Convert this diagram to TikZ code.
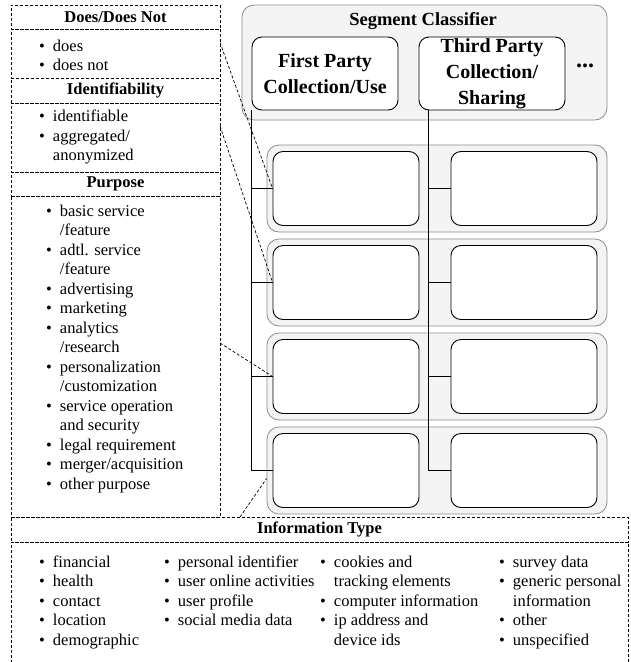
\documentclass[tikz,border=0pt]{standalone}
\usepackage{fontspec}
\setmainfont{Liberation Serif}
\usetikzlibrary{positioning}

\newcommand{\itemlist}[1]{\begin{tabular}[t]{@{}c@{\hspace{8pt}}l@{}}#1\end{tabular}}

\begin{document}
\begin{tikzpicture}[x=1pt, y=-1pt,
    node distance=0pt,
    dsh/.style={dash pattern=on 3pt off 2pt},
    hdr/.style={draw, dsh, minimum width=209pt, minimum height=24pt, inner sep=0pt, outer sep=0pt, font=\bfseries\fontsize{16.5}{19.5}\selectfont},
    frm/.style={draw, dsh, minimum width=209pt, inner sep=0pt, outer sep=0pt},
    lst/.style={inner sep=0pt, anchor=base west, font=\fontsize{16.5}{19.5}\selectfont},
    grp/.style={draw=gray!90, fill=gray!9, rounded corners=12pt, line width=0.8pt, inner sep=0pt},
    cell/.style={draw, fill=white, rounded corners=10pt, minimum width=146pt, minimum height=74pt, inner sep=0pt, line width=0.9pt, align=center, font=\bfseries\fontsize{20}{26}\selectfont},
    link/.style={dsh, line width=0.7pt},
    wire/.style={line width=0.8pt}
  ]
  \useasboundingbox (0,0) rectangle (631,662);

  % left column of label sets
  \node[hdr] (hdDoes) at (115.5,17) {Does/Does Not};
  \node[frm, minimum height=49pt, below=of hdDoes] (frDoes) {};
  \node[hdr, minimum height=25pt, below=of frDoes] (hdIdent) {Identifiability};
  \node[frm, minimum height=69pt, below=of hdIdent] (frIdent) {};
  \node[hdr, below=of frIdent] (hdPurp) {Purpose};
  \node[frm, minimum height=321pt, below=of hdPurp] (frPurp) {};

  \node[lst] (lsDoes) at (39,51) {\itemlist{\textbullet & does\\ \textbullet & does not}};
  \node[lst] (lsIdent) at (39,121.5) {\itemlist{\textbullet & identifiable\\ \textbullet & aggregated/\\ & anonymized}};
  \node[lst] (lsPurp) at (46,216) {\itemlist{\textbullet & basic service\\ & /feature\\
    \textbullet & adtl. service\\ & /feature\\ \textbullet & advertising\\ \textbullet & marketing\\
    \textbullet & analytics\\ & /research\\ \textbullet & personalization\\ & /customization\\
    \textbullet & service operation\\ & and security\\ \textbullet & legal requirement\\
    \textbullet & merger/acquisition\\ \textbullet & other purpose}};

  % information type along the bottom
  \node[hdr, minimum width=617pt, minimum height=25pt] (hdInfo) at (319.5,529.5) {Information Type};
  \node[frm, minimum width=617pt, minimum height=128pt, below=of hdInfo] (frInfo) {};
  \node[lst] (lsInfoA) at (39,567) {\itemlist{\textbullet & financial\\ \textbullet & health\\ \textbullet & contact\\ \textbullet & location\\ \textbullet & demographic}};
  \node[lst] (lsInfoB) at (164,567) {\itemlist{\textbullet & personal identifier\\ \textbullet & user online activities\\ \textbullet & user profile\\ \textbullet & social media data}};
  \node[lst] (lsInfoC) at (320,567) {\itemlist{\textbullet & cookies and\\ & tracking elements\\ \textbullet & computer information\\ \textbullet & ip address and\\ & device ids}};
  \node[lst] (lsInfoD) at (499,567) {\itemlist{\textbullet & survey data\\ \textbullet & generic personal\\ & information\\ \textbullet & other\\ \textbullet & unspecified}};

  % segment classifier
  \node[grp, minimum width=365pt, minimum height=115pt] (segBox) at (424.5,62.5) {};
  \node[font=\bfseries\fontsize{18.5}{22}\selectfont] (segTitle) at (423,21) {Segment Classifier};
  \node[cell, minimum height=73pt] (first) at (325,73.5) {First Party\\Collection/Use};
  \node[cell, minimum height=73pt] (third) at (492,73.5) {Third Party\\Collection/\\Sharing};
  \node[font=\bfseries\fontsize{24}{24}\selectfont] (more) at (585,66) {...};

  % segment rows
  \node[grp, minimum width=340pt, minimum height=87pt] (row1) at (437,188.5) {};
  \node[cell] (l1) at (346,188.5) {};
  \node[cell] (r1) at (524,188.5) {};
  \node[grp, minimum width=340pt, minimum height=87pt] (row2) at (437,282.5) {};
  \node[cell] (l2) at (346,282.5) {};
  \node[cell] (r2) at (524,282.5) {};
  \node[grp, minimum width=340pt, minimum height=87pt] (row3) at (437,376.5) {};
  \node[cell] (l3) at (346,376.5) {};
  \node[cell] (r3) at (524,376.5) {};
  \node[grp, minimum width=340pt, minimum height=87pt] (row4) at (437,470.5) {};
  \node[cell] (l4) at (346,470.5) {};
  \node[cell] (r4) at (524,470.5) {};

  \draw[wire] (first.south west) |- (l1.west);
  \draw[wire] (first.south west) |- (l2.west);
  \draw[wire] (first.south west) |- (l3.west);
  \draw[wire] (first.south west) |- (l4.west);
  \draw[wire] ([xshift=10pt]third.south west) |- (r1.west);
  \draw[wire] ([xshift=10pt]third.south west) |- (r2.west);
  \draw[wire] ([xshift=10pt]third.south west) |- (r3.west);
  \draw[wire] ([xshift=10pt]third.south west) |- (r4.west);

  \draw[link] ([yshift=11pt]frDoes.east) -- (l1.west);
  \draw[link] ([yshift=11.5pt]frIdent.east) -- (l2.west);
  \draw[link] ([yshift=13.5pt]frPurp.east) -- (l3.west);
  \draw[link] ([xshift=229pt]hdInfo.north west) -- ([yshift=-8pt]row4.west);
\end{tikzpicture}
\end{document}
